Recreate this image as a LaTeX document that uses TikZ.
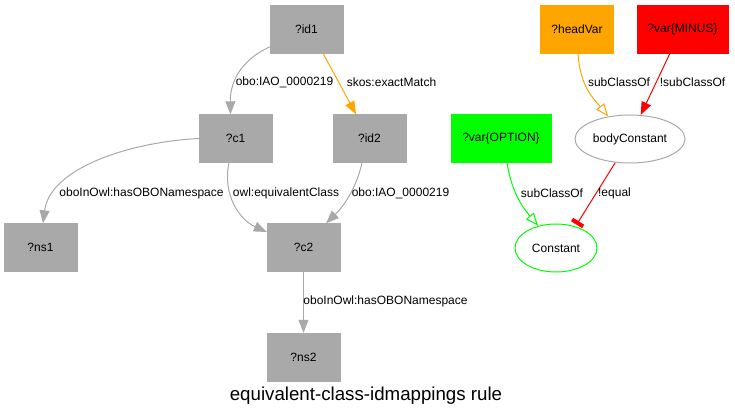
\documentclass[tikz,border=0pt]{standalone}
\usepackage{fontspec}
\setmainfont{Liberation Sans}
\usetikzlibrary{shapes.geometric,arrows.meta}
\definecolor{dgray}{HTML}{A9A9A9}
\definecolor{gvorange}{HTML}{FFA500}
\definecolor{gvred}{HTML}{FF0000}
\definecolor{gvgreen}{HTML}{00FF00}
\tikzset{
  box/.style={rectangle, draw=#1, fill=#1, minimum width=73pt, minimum height=48pt, inner sep=0pt, font=\fontsize{12}{14}\selectfont},
  oval/.style={ellipse, draw=#1, line width=1pt, fill=white, inner sep=0pt, font=\fontsize{12}{14}\selectfont},
  lbl/.style={font=\fontsize{12}{14}\selectfont, inner sep=0pt},
  edge/.style={draw=#1, line width=1pt},
  fullhead/.style={-{Triangle[length=13pt,width=10pt]}},
  openhead/.style={-{Triangle[open,length=13pt,width=10pt]}},
  teehead/.style={-{Bar[width=13pt,line width=4pt,sep=2pt]}},
}
\begin{document}
\begin{tikzpicture}[x=1pt,y=-1pt]
\useasboundingbox (0,0) rectangle (735,419);
\fill[white] (0,0) rectangle (735,419);
% nodes
\node[box=dgray] (id1) at (306.5,29) {?id1};
\node[box=dgray] (c1) at (235.5,138.5) {?c1};
\node[box=dgray] (id2) at (369.5,138.5) {?id2};
\node[box=dgray] (ns1) at (40.5,247.5) {?ns1};
\node[box=dgray] (c2) at (303.5,247.5) {?c2};
\node[box=dgray] (ns2) at (303.5,357) {?ns2};
\node[box=gvorange] (hv) at (577,29) {?headVar};
\node[box=gvred, minimum width=91pt] (minus) at (682.5,29) {?var\{MINUS\}};
\node[box=gvgreen, minimum width=100pt] (opt) at (501,138.5) {?var\{OPTION\}};
\node[oval=dgray, minimum width=110pt, minimum height=48pt] (bc) at (630,139) {bodyConstant};
\node[oval=gvgreen, minimum width=82pt, minimum height=48pt] (const) at (556,248) {Constant};
% edges
\draw[edge=dgray, fullhead] (id1.206) .. controls (245,58) and (230,78) .. ([xshift=-5pt]c1.north);
\node[lbl] (l1) at (284.5,82) {obo:IAO\_0000219};
\draw[edge=gvorange, fullhead] ([xshift=16.5pt]id1.south) -- ([xshift=-13.5pt]id2.north);
\node[lbl] (l2) at (391.5,82) {skos:exactMatch};
\draw[edge=dgray, fullhead] (c1.west) .. controls (130,142) and (50,168) .. ([xshift=2.5pt]ns1.north);
\node[lbl] (l3) at (141.5,193) {oboInOwl:hasOBONamespace};
\draw[edge=dgray, fullhead] ([xshift=-6.5pt]c1.south) .. controls (222,195) and (240,220) .. ([yshift=15.5pt]c2.west);
\node[lbl] (l4) at (286,193) {owl:equivalentClass};
\draw[edge=dgray, fullhead] ([xshift=-7.5pt]id2.south) .. controls (356,190) and (342,208) .. ([xshift=22.5pt]c2.north);
\node[lbl] (l5) at (400.5,193) {obo:IAO\_0000219};
\draw[edge=dgray, fullhead] (c2.south) -- (ns2.north);
\node[lbl] (l6) at (385.5,301) {oboInOwl:hasOBONamespace};
\draw[edge=gvorange, openhead] ([xshift=1pt]hv.south) .. controls (580,88) and (595,100) .. (bc.134);
\node[lbl] (l7) at (619,82) {subClassOf};
\draw[edge=gvred, fullhead] ([xshift=-12.5pt]minus.south) -- (bc.66);
\node[lbl] (l8) at (692.5,82) {!subClassOf};
\draw[edge=gvgreen, openhead] ([xshift=6pt]opt.south) .. controls (512,195) and (525,210) .. (const.129);
\node[lbl] (l9) at (552,193) {subClassOf};
\draw[edge=gvred, teehead] (bc.238) -- (const.48);
\node[lbl] (l10) at (614.5,193) {!equal};
% title
\node[font=\fontsize{18.7}{22}\selectfont, inner sep=0pt] (title) at (366,396) {equivalent-class-idmappings rule};
\end{tikzpicture}
\end{document}
